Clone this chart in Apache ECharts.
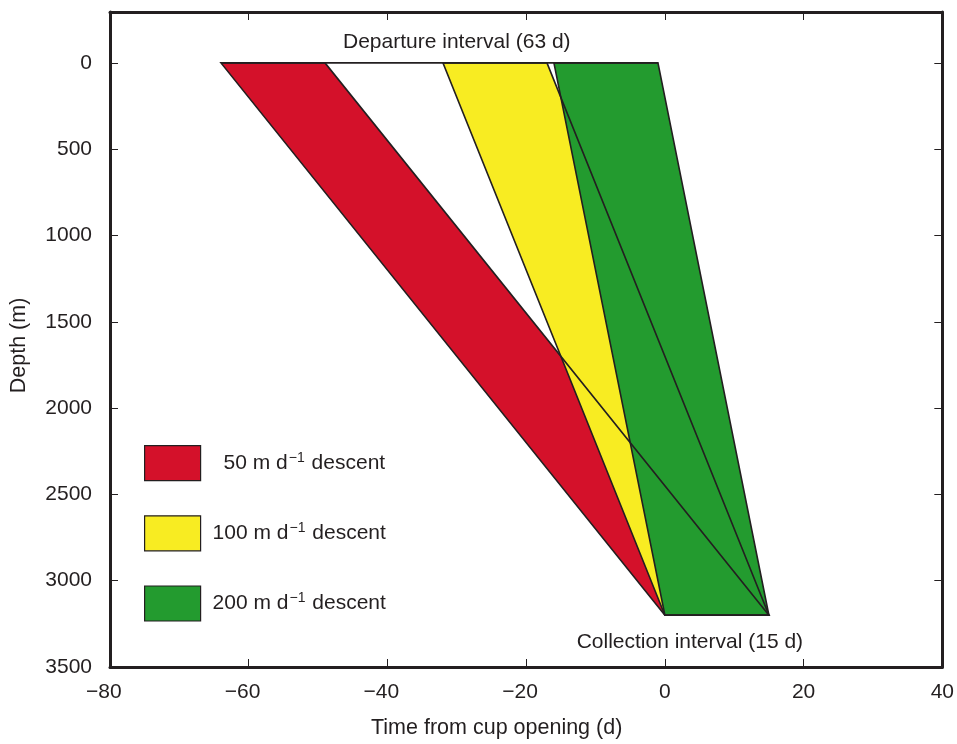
<!DOCTYPE html>
<html><head><meta charset="utf-8">
<script src="https://cdn.jsdelivr.net/npm/echarts@6/dist/echarts.min.js"></script>
<style>html,body{margin:0;padding:0;background:#fff}#c{width:957px;height:744px}</style>
</head><body><div id="c"></div><script>
// ---- data ----
const seriesNames = ['50 m d-1 descent', '100 m d-1 descent', '200 m d-1 descent'];
const descentRates = [50, 100, 200];
const departureStart = [-64, -32, -16];
const departureEnd = [-49, -17, -1];
const collectionInterval = [0, 15];
const departureInterval = [-64, -1];
const trapDepth = 3200;
const xTickLabels = [-80, -60, -40, -20, 0, 20, 40];
const yTickLabels = [0, 500, 1000, 1500, 2000, 2500, 3000, 3500];
const annotationTexts = ['Departure interval (63 d)', 'Collection interval (15 d)'];
const annotationX = [-30, 3.6];
const annotationY = [-121, 3356];

// ---- styles ----
const fills = ['#D4112A', '#F8EC22', '#239B2F'];
const ink = '#231f20';
const font = "'Liberation Sans', Arial, Helvetica, sans-serif";
const fs = 21;

const polygons = descentRates.map((r, i) => [
  [departureStart[i], 0], [departureEnd[i], 0],
  [collectionInterval[1], trapDepth], [collectionInterval[0], trapDepth]
]);

const chart = echarts.init(document.getElementById('c'), null, {renderer: 'canvas'});

function polySeries(i) {
  return {
    type: 'custom', name: seriesNames[i], coordinateSystem: 'cartesian2d',
    itemStyle: {color: fills[i]},
    data: [[polygons[i][0][0], polygons[i][0][1]]],
    z: 2 + i,
    renderItem: function (params, api) {
      const pts = polygons[i].map(p => api.coord(p));
      return {type: 'polygon', shape: {points: pts}, style: {fill: fills[i], stroke: null}};
    }
  };
}

const outlineSeries = {
  type: 'custom', name: 'outline', coordinateSystem: 'cartesian2d', z: 10,
  data: polygons.map(p => [p[0][0], p[0][1]]),
  renderItem: function (params, api) {
    const pts = polygons[params.dataIndex].map(p => api.coord(p));
    return {type: 'polygon', shape: {points: pts}, style: {fill: 'none', stroke: ink, lineWidth: 1.6}};
  }
};

const departureLine = {
  type: 'line', name: 'departure', z: 10, symbol: 'none',
  lineStyle: {color: ink, width: 1.6},
  data: [[departureInterval[0], 0], [departureInterval[1], 0]]
};
const collectionLine = {
  type: 'line', name: 'collection', z: 10, symbol: 'none',
  lineStyle: {color: ink, width: 1.6},
  data: [[collectionInterval[0], trapDepth], [collectionInterval[1], trapDepth]]
};

const annotationSeries = {
  type: 'custom', name: 'annotations', coordinateSystem: 'cartesian2d', z: 11,
  data: annotationTexts.map((t, i) => [annotationX[i], annotationY[i]]),
  renderItem: function (params, api) {
    const p = api.coord([api.value(0), api.value(1)]);
    return {type: 'text', x: p[0], y: p[1], style: {
      text: annotationTexts[params.dataIndex], fill: ink, fontSize: fs, fontFamily: font,
      align: 'center', verticalAlign: 'middle'}};
  }
};

const xMin = xTickLabels[0], xMax = xTickLabels[xTickLabels.length - 1];
const yMax = yTickLabels[yTickLabels.length - 1];
const yMin = -295;

function xLabel(v) {
  if (v < 0) return '{n|\u2212' + Math.abs(v) + '}{h|\u2212}';
  return '{n|' + v + '}';
}
function yLabel(v) {
  return yTickLabels.indexOf(v) >= 0 ? String(v) : '';
}

const axisLineStyle = {show: true, onZero: false, lineStyle: {color: ink, width: 3}};
const tickStyle = {show: true, inside: true, length: 8, lineStyle: {color: ink, width: 1}};

chart.setOption({
  animation: false,
  backgroundColor: '#fff',
  textStyle: {fontFamily: font},
  grid: {left: 110, right: 12, top: 12, bottom: 73, containLabel: false},
  legend: {
    data: seriesNames, orient: 'vertical', left: 144, top: 445, padding: 0,
    itemWidth: 56, itemHeight: 35, itemGap: 34, icon: 'rect',
    selectedMode: false,
    itemStyle: {borderColor: ink, borderWidth: 1.2},
    textStyle: {color: ink, fontSize: fs, fontFamily: font,
      rich: {
        a: {fontSize: fs, color: ink, fontFamily: font},
        p1: {fontSize: fs, color: ink, fontFamily: font, padding: [0, 0, 0, 7]},
        p2: {fontSize: fs, color: ink, fontFamily: font, padding: [0, 0, 0, 18]},
        s: {fontSize: 14, color: ink, fontFamily: font, padding: [0, 1, 10, 1]}
      }},
    formatter: function (name) {
      const i = seriesNames.indexOf(name);
      return '{' + (i === 0 ? 'p2' : 'p1') + '|' + descentRates[i] + ' m d}{s|\u22121}{a| descent}';
    }
  },
  xAxis: [{
    type: 'value', position: 'bottom', min: xMin, max: xMax, interval: 20,
    name: 'Time from cup opening (d)', nameLocation: 'middle', nameGap: 50,
    nameTextStyle: {color: ink, fontSize: 21.5, fontFamily: font, padding: [0, 59, 0, 0]},
    axisLine: axisLineStyle, axisTick: tickStyle, splitLine: {show: false},
    axisLabel: {margin: 15, color: ink, fontSize: fs, fontFamily: font, formatter: xLabel,
      rich: {n: {fontSize: fs, color: ink, fontFamily: font},
             h: {fontSize: fs, color: 'rgba(0,0,0,0)', fontFamily: font}}}
  }, {
    type: 'value', position: 'top', min: xMin, max: xMax, interval: 20,
    axisLine: axisLineStyle, axisTick: tickStyle, splitLine: {show: false},
    axisLabel: {show: false}
  }],
  yAxis: [{
    type: 'value', position: 'left', inverse: true, min: yMin, max: yMax,
    splitNumber: 8, minInterval: 500, maxInterval: 500,
    name: 'Depth (m)', nameLocation: 'middle', nameGap: 80,
    nameTextStyle: {color: ink, fontSize: 21.5, fontFamily: font, padding: [0, 12, 0, 0]},
    axisLine: axisLineStyle, axisTick: tickStyle, splitLine: {show: false},
    axisLabel: {margin: 18, color: ink, fontSize: fs, fontFamily: font, formatter: yLabel}
  }, {
    type: 'value', position: 'right', inverse: true, min: yMin, max: yMax,
    splitNumber: 8, minInterval: 500, maxInterval: 500,
    axisLine: axisLineStyle, axisTick: tickStyle, splitLine: {show: false},
    axisLabel: {show: false}
  }],
  series: [polySeries(0), polySeries(1), polySeries(2), outlineSeries, departureLine, collectionLine, annotationSeries]
});
</script></body></html>
